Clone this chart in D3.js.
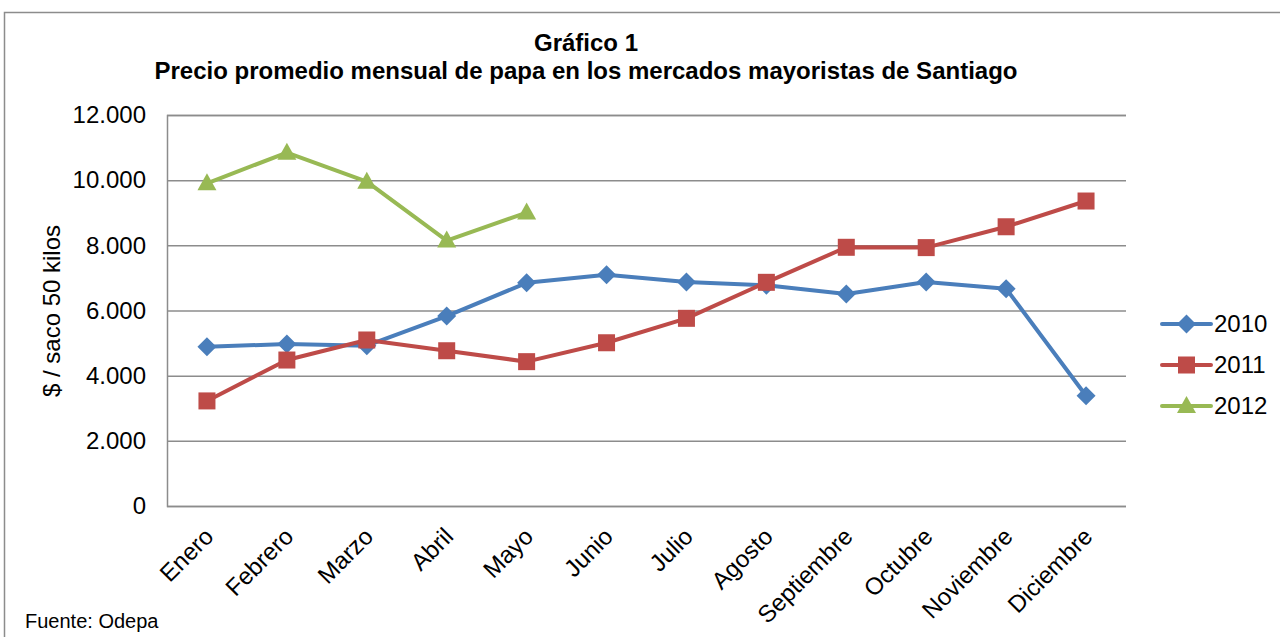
<!DOCTYPE html>
<html><head><meta charset="utf-8">
<script src="https://cdn.jsdelivr.net/npm/d3@7"></script>
<style>body{margin:0;background:#fff}svg{display:block;font-family:"Liberation Sans",Arial,sans-serif}</style>
</head><body><svg id="c" width="1280" height="637"></svg>
<script>
const months = ["Enero","Febrero","Marzo","Abril","Mayo","Junio","Julio","Agosto","Septiembre","Octubre","Noviembre","Diciembre"];
const s2010 = [4890,4970,4920,5830,6850,7100,6875,6775,6505,6875,6670,3385];
const s2011 = [3225,4480,5095,4765,4430,5010,5760,6865,7940,7930,8570,9360];
const s2012 = [9905,10845,9955,8145,9005];
const seriesNames = ["2010","2011","2012"];
const yTicks = [0,2000,4000,6000,8000,10000,12000];
const yTickLabels = ["0","2.000","4.000","6.000","8.000","10.000","12.000"];

const svg = d3.select("#c");
const colors = {"2010":"#4A7EBB","2011":"#BE4B48","2012":"#98B954"};
const L=167, R=1126, T=115, B=506;
const x = d3.scaleBand().domain(months).range([L,R]);
const cx = m => x(m)+x.bandwidth()/2;
const y = d3.scaleLinear().domain([0,12000]).range([B,T]);

// outer frame
svg.append("rect").attr("x",4.5).attr("y",12.5).attr("width",1300).attr("height",700)
  .attr("fill","none").attr("stroke","#8c8c8c").attr("stroke-width",1.5);

// gridlines
const yAxis = d3.axisLeft(y).tickValues(yTicks).tickSize(-(R-L)).tickFormat((d,i)=>yTickLabels[i]);
const gy = svg.append("g").attr("transform",`translate(${L},0)`).call(yAxis);
gy.select(".domain").attr("stroke","#8c8c8c").attr("stroke-width",1.5);
gy.selectAll(".tick line").attr("stroke","#8c8c8c").attr("stroke-width",1.5);
gy.selectAll(".tick text").attr("x",-21).attr("font-size",24).attr("fill","#000").attr("font-family","Liberation Sans, Arial, sans-serif");

// x labels
const gx = svg.append("g").attr("transform",`translate(0,${B})`).call(d3.axisBottom(x).tickSize(0).tickPadding(0));
gx.select(".domain").remove();
gx.selectAll(".tick text").attr("font-size",24).attr("fill","#000")
  .attr("font-family","Liberation Sans, Arial, sans-serif")
  .attr("text-anchor","end").attr("dy","0").attr("y",0)
  .attr("transform","translate(8,32) rotate(-45)");

// series
const data = [
  {name:"2010", vals:s2010, shape:"diamond"},
  {name:"2011", vals:s2011, shape:"square"},
  {name:"2012", vals:s2012, shape:"triangle"}
];
const line = d3.line().x(d=>cx(d.m)).y(d=>y(d.v));
function marker(g, shape, px, py, col){
  if(shape==="diamond"){
    const r=9.5;
    g.append("path").attr("d",`M${px},${py-r}L${px+r},${py}L${px},${py+r}L${px-r},${py}Z`).attr("fill",col);
  } else if(shape==="square"){
    g.append("rect").attr("x",px-8.5).attr("y",py-8.5).attr("width",17).attr("height",17).attr("fill",col);
  } else {
    g.append("path").attr("d",`M${px},${py-10}L${px+9.5},${py+7}L${px-9.5},${py+7}Z`).attr("fill",col);
  }
}
data.forEach(s=>{
  const pts = s.vals.map((v,i)=>({m:months[i],v}));
  const g = svg.append("g");
  g.append("path").attr("d",line(pts)).attr("fill","none").attr("stroke",colors[s.name]).attr("stroke-width",4).attr("stroke-linejoin","round");
  pts.forEach(p=>marker(g,s.shape,cx(p.m),y(p.v),colors[s.name]));
});

// legend
const legY=[324,365,406];
data.forEach((s,i)=>{
  const g = svg.append("g");
  g.append("line").attr("x1",1162).attr("x2",1211).attr("y1",legY[i]).attr("y2",legY[i]).attr("stroke",colors[s.name]).attr("stroke-width",4).attr("stroke-linecap","round");
  marker(g,s.shape,1186.5,legY[i],colors[s.name]);
  g.append("text").attr("x",1214).attr("y",legY[i]+8).attr("font-size",24).text(seriesNames[i]);
});

// titles
svg.append("text").attr("x",586).attr("y",51).attr("text-anchor","middle").attr("font-size",24).attr("font-weight","bold").text("Gráfico 1");
svg.append("text").attr("x",586).attr("y",79).attr("text-anchor","middle").attr("font-size",24).attr("font-weight","bold").text("Precio promedio mensual de papa en los mercados mayoristas de Santiago");
svg.append("text").attr("transform","translate(60,311) rotate(-90)").attr("text-anchor","middle").attr("font-size",24).text("$ / saco 50 kilos");
svg.append("text").attr("x",25).attr("y",628).attr("font-size",20).text("Fuente: Odepa");
</script></body></html>
